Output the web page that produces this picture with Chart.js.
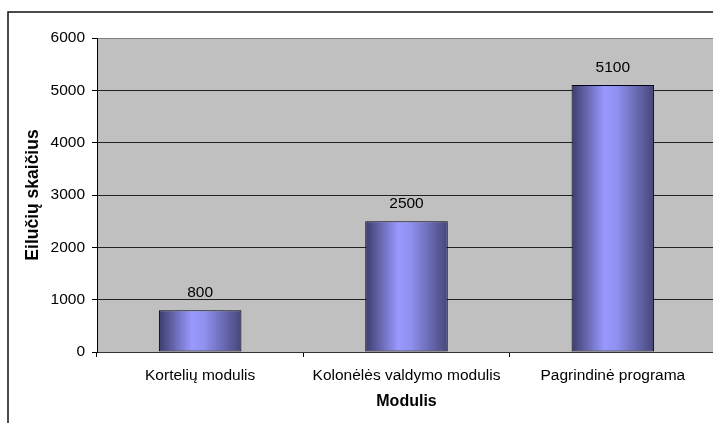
<!DOCTYPE html>
<html>
<head>
<meta charset="utf-8">
<script src="https://cdn.jsdelivr.net/npm/chart.js@4"></script>
<style>
  html, body { margin: 0; padding: 0; background: #fff; overflow: hidden; }
  #wrap { width: 716px; height: 423px; }
</style>
</head>
<body>
<div id="wrap"><canvas id="linesChart" width="716" height="423"></canvas></div>
<script>
const modules = ['Kortelių modulis', 'Kolonėlės valdymo modulis', 'Pagrindinė programa'];
const lineCounts = [800, 2500, 5100];
const yTicks = [0, 1000, 2000, 3000, 4000, 5000, 6000];
const barPct = 0.4;

// gray plot area, outer frame and value labels
const frame = {
  id: 'frame',
  beforeDraw(chart) {
    const { ctx, chartArea: a } = chart;
    ctx.save();
    ctx.fillStyle = '#c0c0c0';
    ctx.fillRect(a.left, a.top, a.right - a.left, a.bottom - a.top);
    ctx.strokeStyle = '#111';
    ctx.lineWidth = 1.5;
    ctx.beginPath();
    ctx.moveTo(8, chart.height);
    ctx.lineTo(8, 12);
    ctx.lineTo(chart.width, 12);
    ctx.stroke();
    ctx.restore();
  },
  afterDatasetsDraw(chart) {
    const { ctx } = chart;
    ctx.save();
    ctx.font = '15.5px "Liberation Sans", Arial, sans-serif';
    ctx.fillStyle = '#000';
    ctx.textAlign = 'center';
    ctx.textBaseline = 'middle';
    chart.getDatasetMeta(0).data.forEach((bar, i) => {
      ctx.fillText(lineCounts[i], bar.x, bar.y - 17);
    });
    ctx.restore();
  }
};

function barGradient(c) {
  const x = c.chart.scales.x;
  if (!x || c.dataIndex === undefined) return '#9999ff';
  const cx = x.getPixelForValue(c.dataIndex);
  const half = x.width / modules.length * barPct / 2;
  if (!isFinite(cx) || !isFinite(half) || half <= 0) return '#9999ff';
  const g = c.chart.ctx.createLinearGradient(cx - half, 0, cx + half, 0);
  g.addColorStop(0, '#3c3c6c');
  g.addColorStop(0.4, '#9999ff');
  g.addColorStop(0.55, '#9090f0');
  g.addColorStop(1, '#46467a');
  return g;
}

Chart.defaults.font.family = '"Liberation Sans", Arial, sans-serif';
Chart.defaults.font.size = 15.5;
Chart.defaults.color = '#000';

new Chart(document.getElementById('linesChart'), {
  type: 'bar',
  data: {
    labels: modules,
    datasets: [{
      data: lineCounts,
      backgroundColor: barGradient,
      borderColor: '#000018',
      borderWidth: 1,
      borderSkipped: false,
      categoryPercentage: 1,
      barPercentage: barPct
    }]
  },
  options: {
    responsive: false,
    animation: false,
    events: [],
    layout: { padding: { top: 38, right: 0, bottom: 0, left: 0 } },
    plugins: { legend: { display: false }, tooltip: { enabled: false } },
    scales: {
      x: {
        afterFit(s) { s.height = 71; },
        grid: { offset: true, drawOnChartArea: false, drawTicks: true, tickLength: 5, color: '#000' },
        border: { color: '#333', width: 1 },
        ticks: { padding: 9, maxRotation: 0 },
        title: { display: true, text: 'Modulis', font: { weight: 'bold', size: 16 }, padding: { top: 0, bottom: 12 } }
      },
      y: {
        min: 0,
        max: 6000,
        afterFit(s) { s.width = 97; },
        afterBuildTicks(s) { s.ticks = yTicks.map(v => ({ value: v })); },
        grid: {
          color: c => (c.tick && c.tick.value === 6000 ? '#808080' : '#222'),
          tickColor: '#000',
          tickLength: 5
        },
        border: { color: '#000', width: 1 },
        ticks: { padding: 7, callback: v => String(v) },
        title: { display: true, text: 'Eilučių skaičius', font: { weight: 'bold', size: 17.5 }, padding: { top: 23, bottom: 0 } }
      }
    }
  },
  plugins: [frame]
});
</script>
</body>
</html>
